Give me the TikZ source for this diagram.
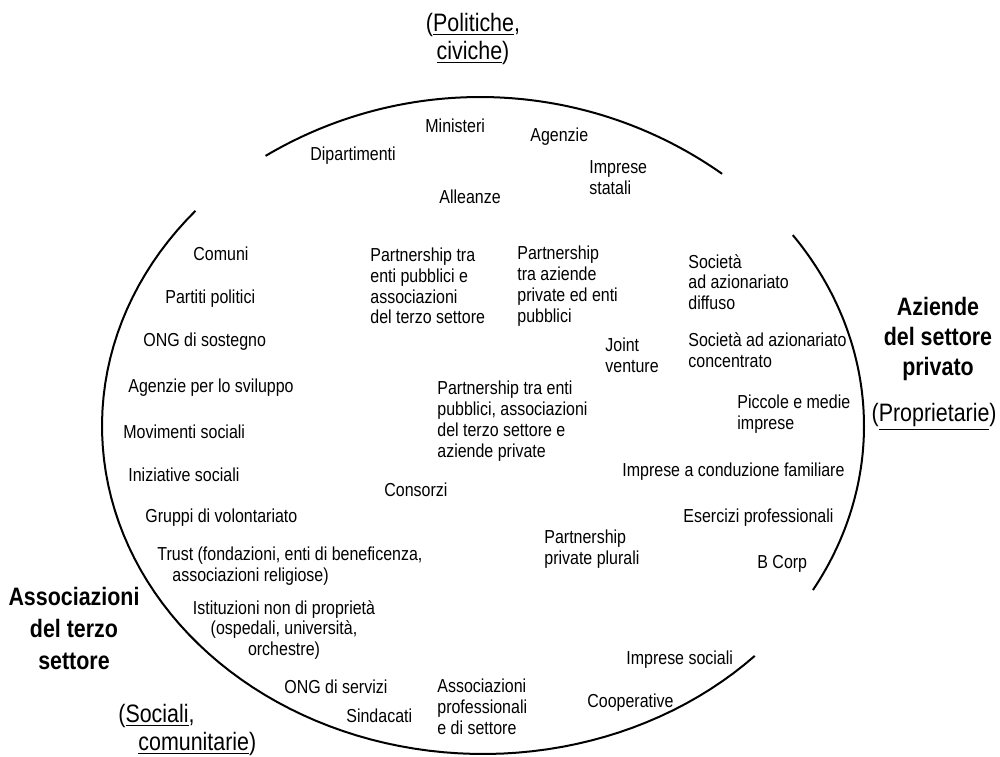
\documentclass[tikz,border=0pt]{standalone}
\usepackage{fontspec}
\setmainfont[FakeStretch=0.85]{Liberation Sans}
\begin{document}
\begin{tikzpicture}[x=0.5pt, y=-0.5pt, samples=80,
    item/.style={inner sep=0pt, anchor=west, align=left, font=\fontsize{9.4}{10.4}\selectfont},
    sector/.style={inner sep=0pt, align=center, font=\fontsize{12.6}{15}\selectfont\bfseries},
    owner/.style={inner sep=0pt, align=center, font=\fontsize{12.6}{14}\selectfont}]
    \useasboundingbox (0,0) rectangle (1000,756);

    % Arcs
    \draw[line width=1pt, domain=54.8:120.7] plot ({480+420*cos(\x)}, {517-420*sin(\x)});
    \draw[line width=1pt, domain=139:315.5] plot ({483+381*cos(\x)}, {426-328*sin(\x)});
    \draw[line width=1pt, domain=-30:35.6] plot ({483+381*cos(\x)}, {426-328*sin(\x)});

    % Sector labels
    \node[owner] (politiche) at (473,39) {(\underline{Politiche},\\\underline{civiche})};
    \node[sector] (aziende) at (938,339) {Aziende\\del settore\\privato};
    \node[owner, anchor=east] (proprietarie) at (997,417) {(\underline{Proprietarie})};
    \node[sector, font=\fontsize{12.6}{16}\selectfont\bfseries] (associazioni) at (74,628) {Associazioni\\del terzo\\settore};
    \node[owner, anchor=west, align=left] (sociali) at (118,730) {(\underline{Sociali},\\\hspace*{10pt}\underline{comunitarie})};

    % Public sector
    \node[item] (ministeri) at (425,126) {Ministeri};
    \node[item] (agenzie) at (530,137) {Agenzie};
    \node[item] (dipartimenti) at (310,156) {Dipartimenti};
    \node[item] (statali) at (589,178) {Imprese\\statali};
    \node[item] (alleanze) at (439,197) {Alleanze};

    % Middle
    \node[item] (pubterzo) at (370,286) {Partnership tra\\enti pubblici e\\associazioni\\del terzo settore};
    \node[item] (privpub) at (517,286) {Partnership\\tra aziende\\private ed enti\\pubblici};
    \node[item] (joint) at (605,355) {Joint\\venture};
    \node[item] (tutti) at (437,421) {Partnership tra enti\\pubblici, associazioni\\del terzo settore e\\aziende private};
    \node[item] (consorzi) at (384,490) {Consorzi};
    \node[item] (plurali) at (544,549) {Partnership\\private plurali};

    % Private sector
    \node[item] (diffuso) at (688,282) {Società\\ad azionariato\\diffuso};
    \node[item] (concentrato) at (688,350) {Società ad azionariato\\concentrato};
    \node[item] (pmi) at (737,414) {Piccole e medie\\imprese};
    \node[item] (familiare) at (622,472) {Imprese a conduzione familiare};
    \node[item] (esercizi) at (683,518) {Esercizi professionali};
    \node[item] (bcorp) at (757,564) {B Corp};
    \node[item] (sociali2) at (626,660) {Imprese sociali};
    \node[item] (cooperative) at (587,703) {Cooperative};

    % Third sector
    \node[item] (comuni) at (193,254) {Comuni};
    \node[item] (partiti) at (165,299) {Partiti politici};
    \node[item] (ongsost) at (143,342) {ONG di sostegno};
    \node[item] (sviluppo) at (128,388) {Agenzie per lo sviluppo};
    \node[item] (movimenti) at (123,432) {Movimenti sociali};
    \node[item] (iniziative) at (128,475) {Iniziative sociali};
    \node[item] (volontariato) at (145,518) {Gruppi di volontariato};
    \node[item] (trust) at (157,566) {Trust (fondazioni, enti di beneficenza,\\\hspace*{7.5pt}associazioni religiose)};
    \node[item, anchor=center, align=center] (istituzioni) at (284,630) {Istituzioni non di proprietà\\(ospedali, università,\\orchestre)};
    \node[item] (ongserv) at (284,687) {ONG di servizi};
    \node[item] (sindacati) at (346,716) {Sindacati};
    \node[item] (profess) at (437,707) {Associazioni\\professionali\\e di settore};
\end{tikzpicture}
\end{document}
